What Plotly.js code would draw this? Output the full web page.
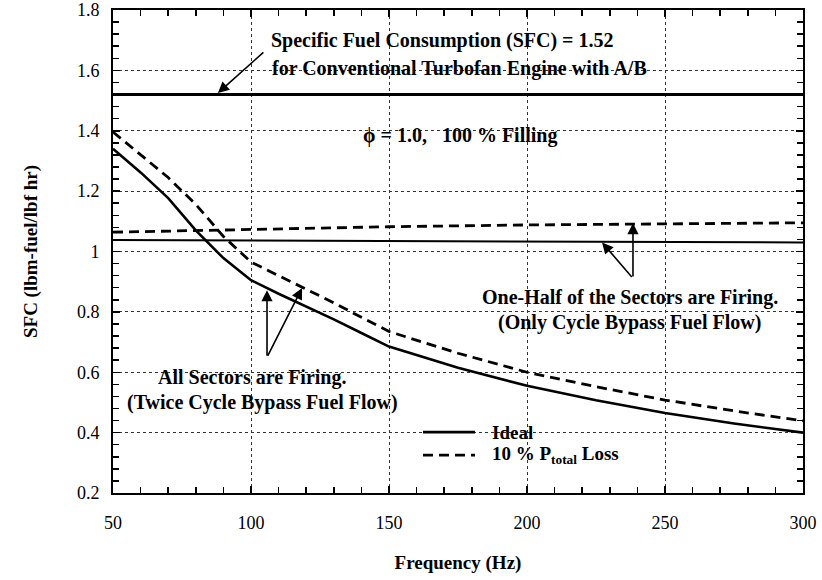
<!DOCTYPE html>
<html>
<head>
<meta charset="utf-8">
<script src="https://cdn.plot.ly/plotly-3.0.1.min.js"></script>
<style>html,body{margin:0;padding:0;background:#fff;}#chart{width:822px;height:580px;}</style>
</head>
<body>
<div id="chart"></div>
<script>
// ---- data ----
var freq = [50, 60, 70, 80, 90, 100, 110, 120, 130, 140, 150, 175, 200, 225, 250, 275, 300];
var sfcIdeal = [1.34, 1.262, 1.177, 1.07, 0.978, 0.905, 0.86, 0.818, 0.775, 0.73, 0.685, 0.615, 0.555, 0.507, 0.465, 0.43, 0.40];
var sfcLoss = [1.396, 1.321, 1.245, 1.156, 1.05, 0.965, 0.92, 0.877, 0.83, 0.782, 0.735, 0.663, 0.60, 0.552, 0.508, 0.472, 0.439];
var freqHalf = [50, 100, 150, 200, 250, 300];
var sfcHalfIdeal = [1.038, 1.036, 1.034, 1.032, 1.031, 1.030];
var sfcHalfLoss = [1.064, 1.074, 1.082, 1.088, 1.092, 1.095];
var freqConv = [50, 300];
var sfcConv = [1.52, 1.52];
var xTickVals = [50, 100, 150, 200, 250, 300];
var xTickText = ['50', '100', '150', '200', '250', '300'];
var yTickVals = [0.2, 0.4, 0.6, 0.8, 1.0, 1.2, 1.4, 1.6, 1.8];
var yTickText = ['0.2', '0.4', '0.6', '0.8', '1', '1.2', '1.4', '1.6', '1.8'];
var legendNames = ['Ideal', '10 % P<sub>total</sub> Loss'];

var FONT = 'Liberation Serif, Times New Roman, serif';
var solid = {color: '#000', width: 2.6};
var dashed = {color: '#000', width: 2.8, dash: '10px,6px'};

var traces = [
  {x: freqConv, y: sfcConv, mode: 'lines', line: {color: '#000', width: 3.2}, showlegend: false},
  {x: freqHalf, y: sfcHalfIdeal, mode: 'lines', line: {color: '#000', width: 2}, showlegend: false},
  {x: freqHalf, y: sfcHalfLoss, mode: 'lines', line: dashed, showlegend: false},
  {x: freq, y: sfcIdeal, mode: 'lines', line: solid, name: legendNames[0], showlegend: false},
  {x: freq, y: sfcLoss, mode: 'lines', line: dashed, name: legendNames[1], showlegend: false}
];

function txt(x, y, t, xanchor, size) {
  return {x: x, y: y, xref: 'x', yref: 'y', text: '<b>' + t + '</b>', showarrow: false,
    xanchor: xanchor || 'center', yanchor: 'middle', font: {family: FONT, size: size || 20, color: '#000'}};
}
function arrow(x, y, ax, ay) {
  return {x: x, y: y, xref: 'x', yref: 'y', ax: ax, ay: ay, text: '', showarrow: true,
    arrowhead: 2, arrowsize: 1.4, arrowwidth: 1.6, arrowcolor: '#000', standoff: 0, startstandoff: 0};
}
function ptxt(x, y, t) {
  return {x: x, y: y, xref: 'paper', yref: 'paper', text: '<b>' + t + '</b>', showarrow: false,
    xanchor: 'left', yanchor: 'middle', font: {family: FONT, size: 19, color: '#000'}};
}

var annotations = [
  txt(106.5, 1.70, 'Specific Fuel Consumption (SFC) = 1.52', 'left'),
  txt(106.8, 1.607, 'for Conventional Turbofan Engine with A/B', 'left'),
  arrow(88, 1.525, 47, -42),
  txt(175.7, 1.385, '\u03d5 = 1.0,\u00a0\u00a0\u00a0100 % Filling', 'center'),
  txt(100.4, 0.584, 'All Sectors are Firing.'),
  txt(104.3, 0.501, '(Twice Cycle Bypass Fuel Flow)'),
  arrow(105.8, 0.872, 0, 67),
  arrow(118.5, 0.879, -35, 69),
  txt(237.3, 0.846, 'One-Half of the Sectors are Firing.'),
  txt(237, 0.766, '(Only Cycle Bypass Fuel Flow)'),
  arrow(238.4, 1.094, 0, 55),
  arrow(227.2, 1.03, 31, 36),
  ptxt(0.5464, 0.126, legendNames[0]),
  ptxt(0.5464, 0.0785, legendNames[1])
];

var shapes = [
  {type: 'line', xref: 'paper', yref: 'paper', x0: 0.4493, x1: 0.5246, y0: 0.126, y1: 0.126, line: {color: '#000', width: 2.6}},
  {type: 'line', xref: 'paper', yref: 'paper', x0: 0.4493, x1: 0.5246, y0: 0.0785, y1: 0.0785, line: {color: '#000', width: 2.8, dash: '10px,6px'}}
];

var layout = {
  width: 822, height: 580,
  margin: {l: 113, r: 19, t: 10, b: 87},
  paper_bgcolor: '#fff', plot_bgcolor: '#fff',
  showlegend: false,
  xaxis: {
    range: [50, 300], tickmode: 'array', tickvals: xTickVals, ticktext: xTickText,
    showline: true, linecolor: '#000', linewidth: 2, mirror: 'allticks',
    ticks: 'inside', ticklen: 7, tickwidth: 1.5, tickcolor: '#000',
    showgrid: true, gridcolor: '#333', gridwidth: 1, griddash: 'dot',
    zeroline: false, tickfont: {family: FONT, size: 18, color: '#000'},
    ticklabelstandoff: 12,
    minor: {tickmode: 'linear', tick0: 50, dtick: 10, ticks: 'inside', ticklen: 6, tickwidth: 1.5, tickcolor: '#000', showgrid: false},
    title: {text: '<b>Frequency (Hz)</b>', font: {family: FONT, size: 19, color: '#000'}, standoff: 24}
  },
  yaxis: {
    range: [0.2, 1.8], tickmode: 'array', tickvals: yTickVals, ticktext: yTickText,
    showline: true, linecolor: '#000', linewidth: 2, mirror: 'allticks',
    ticks: 'inside', ticklen: 7, tickwidth: 1.5, tickcolor: '#000',
    showgrid: true, gridcolor: '#333', gridwidth: 1, griddash: 'dot',
    zeroline: false, tickfont: {family: FONT, size: 18, color: '#000'},
    ticklabelstandoff: 8,
    minor: {tickmode: 'linear', tick0: 0.2, dtick: 0.04, ticks: 'inside', ticklen: 6, tickwidth: 1.5, tickcolor: '#000', showgrid: false},
    title: {text: '<b>SFC (lbm-fuel/lbf hr)</b>', font: {family: FONT, size: 19, color: '#000'}, standoff: 34}
  },
  annotations: annotations,
  shapes: shapes
};

Plotly.newPlot('chart', traces, layout, {displayModeBar: false, staticPlot: true});
</script>
</body>
</html>
